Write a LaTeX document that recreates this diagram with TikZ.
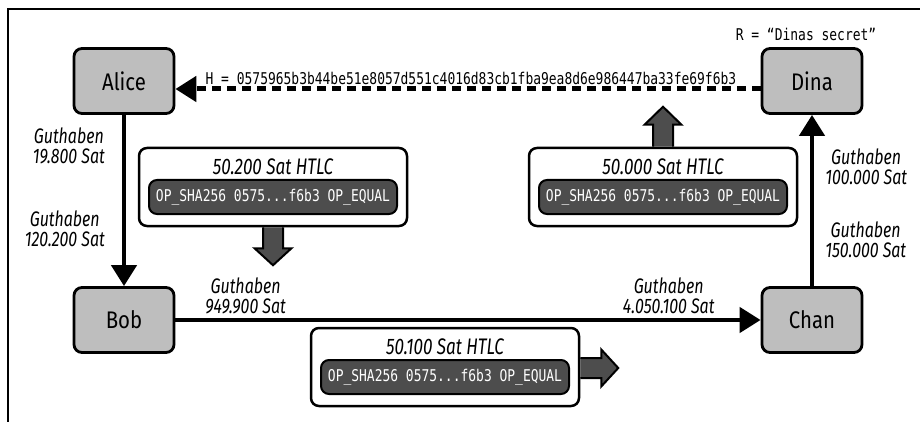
\documentclass[tikz,border=0pt]{standalone}
\usepackage{fontspec}
\setmainfont[FakeStretch=0.85]{Fira Sans}
\newfontfamily\labelfont[FakeStretch=0.76]{Fira Sans}
\newfontfamily\codefont[FakeStretch=0.8]{DejaVu Sans Mono}
\usetikzlibrary{arrows.meta,positioning}

\definecolor{boxgray}{RGB}{190,190,190}
\definecolor{codegray}{RGB}{77,77,77}

\tikzset{
  party/.style={draw, line width=2.8pt, rounded corners=8pt, fill=boxgray,
    minimum width=100pt, minimum height=65pt, font=\fontsize{24}{26}\selectfont},
  channel/.style={line width=4.5pt, -{Triangle[length=21pt,width=25pt]}},
  hashline/.style={line width=5pt, dash pattern=on 9pt off 6pt, -{Triangle[length=21pt,width=25pt]}},
  balance/.style={font=\labelfont\fontsize{21}{20}\selectfont\itshape, align=center, inner sep=2pt},
  htlc/.style={draw, line width=2.5pt, rounded corners=8pt, fill=white,
    minimum width=268pt, minimum height=78pt},
  htlctitle/.style={font=\labelfont\fontsize{22.5}{24}\selectfont\itshape, inner sep=0pt},
  script/.style={draw, line width=2pt, rounded corners=8pt, fill=codegray, text=white,
    minimum width=248pt, minimum height=34pt, inner sep=0pt, font=\codefont\fontsize{16.2}{18}\selectfont},
  push/.style={draw, line width=2pt, fill=codegray, line join=miter},
  hashtext/.style={font=\codefont\fontsize{16.2}{18}\selectfont, inner sep=0pt}
}

\begin{document}
\begin{tikzpicture}[x=1pt,y=1pt]
\useasboundingbox (0,0) rectangle (920,-422);
\draw[line width=1.2pt] (8,-422) -- (8,-9) -- (920,-9);

% the four nodes of the route
\node[party] (alice) at (124,-81) {Alice};
\node[party] (dina) at (812,-81) {Dina};
\node[party] (bob) at (124,-320) {Bob};
\node[party] (chan) at (812,-320) {Chan};

\node[hashtext, above=6pt of dina, xshift=-6pt] (secret) {R = “Dinas secret”};

% channels with their balances
\draw[channel] (alice) -- (bob)
  node[balance, pos=0.18, left=15pt] (balab) {Guthaben\\19.800 Sat}
  node[balance, pos=0.665, left=15pt] (balba) {Guthaben\\120.200 Sat};
\draw[channel] (bob) -- (chan)
  node[balance, pos=0.12, above=2pt] (balbc) {Guthaben\\949.900 Sat}
  node[balance, pos=0.843, above=2pt] (balcb) {Guthaben\\4.050.100 Sat};
\draw[channel] (chan) -- (dina)
  node[balance, pos=0.27, right=9pt] (balcd) {Guthaben\\150.000 Sat}
  node[balance, pos=0.70, right=9pt] (baldc) {Guthaben\\100.000 Sat};

% the hash travels back to Alice
\draw[hashline] ([yshift=-8pt]dina.west) -- ([yshift=-8pt]alice.east)
  node[hashtext, pos=0.495, above=2pt] (hash) {H = 0575965b3b44be51e8057d551c4016d83cb1fba9ea8d6e986447ba33fe69f6b3};

% HTLC boxes
\foreach \n/\x/\y/\amt in {ab/273/-187/50.200, cd/663/-187/50.000, bc/445/-367/50.100} {
  \node[htlc] (htlc\n) at (\x,\y) {};
  \node[htlctitle] (title\n) at ([yshift=20pt]htlc\n.center) {\amt{} Sat HTLC};
  \node[script] (script\n) at ([yshift=-10pt]htlc\n.center) {OP\_SHA256 0575...f6b3 OP\_EQUAL};
}

% block arrows: where each HTLC is passed on
\draw[push] ([xshift=-10pt]htlcab.south) -- ++(0,-21) -- ++(-8.5,0) -- ++(18.5,-17)
  -- ++(18.5,17) -- ++(-8.5,0) -- ++(0,21);
\draw[push] ([xshift=-10pt]htlccd.north) -- ++(0,22) -- ++(-8.5,0) -- ++(18.5,18)
  -- ++(18.5,-18) -- ++(-8.5,0) -- ++(0,-22);
\draw[push] ([yshift=9pt]htlcbc.east) -- ++(21,0) -- ++(0,8.5) -- ++(17,-18.5)
  -- ++(-17,-18.5) -- ++(0,8.5) -- ++(-21,0);

\end{tikzpicture}
\end{document}
